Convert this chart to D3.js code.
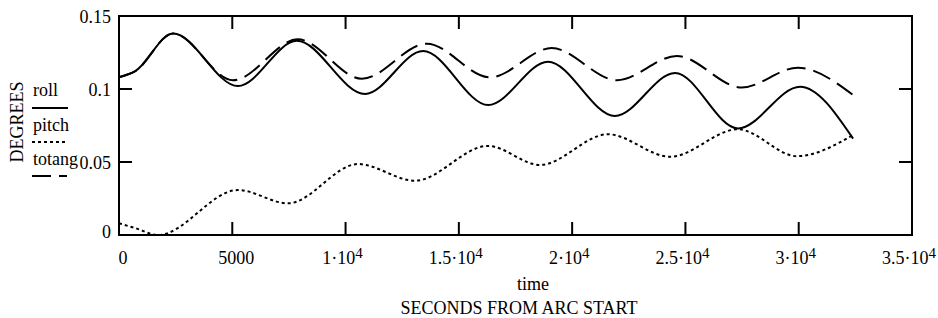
<!DOCTYPE html>
<html>
<head>
<meta charset="utf-8">
<script src="https://cdn.jsdelivr.net/npm/d3@7"></script>
<style>
  body { margin: 0; background: #fff; }
  text { font-family: "Liberation Serif", "Times New Roman", serif; fill: #000; }
</style>
</head>
<body>
<div id="chart"></div>
<script>
// values (time in seconds, angles in degrees)
const rollTime  = [0, 700, 2384, 5250, 7850, 10860, 13420, 16300, 18930, 21890, 24540, 27320, 30060, 32400];
const rollVal   = [0.108, 0.112, 0.138, 0.102, 0.133, 0.0966, 0.126, 0.089, 0.1187, 0.0815, 0.111, 0.073, 0.1016, 0.066];

const pitchTime = [0, 700, 1720, 5250, 7460, 10550, 13060, 16280, 18580, 21580, 24320, 27320, 29920, 32400];
const pitchVal  = [0.008, 0.0048, 0, 0.0308, 0.0217, 0.0486, 0.0372, 0.061, 0.048, 0.069, 0.0536, 0.0724, 0.054, 0.0685];

const totTime   = [0, 700, 2384, 5030, 7900, 10720, 13590, 16370, 19100, 21980, 24620, 27490, 29960, 32400];
const totVal    = [0.108, 0.112, 0.138, 0.106, 0.134, 0.107, 0.131, 0.108, 0.128, 0.106, 0.1226, 0.101, 0.1146, 0.0959];

const xTicks = [0, 5000, 10000, 15000, 20000, 25000, 30000, 35000];
const yTicks = [0, 0.05, 0.1, 0.15];

const width = 938, height = 318;
const m = { left: 119, right: 912, top: 16, bottom: 235 };

const svg = d3.select("#chart").append("svg")
  .attr("width", width)
  .attr("height", height);

const x = d3.scaleLinear().domain([0, 35000]).range([m.left, m.right]);
const y = d3.scaleLinear().domain([0, 0.15]).range([m.bottom, m.top]);

const line = d3.line()
  .x((d) => x(d[0]))
  .y((d) => y(d[1]))
  .curve(d3.curveMonotoneX);

const series = [
  { name: "roll", t: rollTime, v: rollVal, dash: null },
  { name: "pitch", t: pitchTime, v: pitchVal, dash: "3,3" },
  { name: "totang", t: totTime, v: totVal, dash: "19,8" },
];

series.forEach((s) => {
  svg.append("path")
    .datum(d3.zip(s.t, s.v))
    .attr("fill", "none")
    .attr("stroke", "#000")
    .attr("stroke-width", 2)
    .attr("stroke-dasharray", s.dash)
    .attr("d", line);
});

// frame
svg.append("rect")
  .attr("x", m.left).attr("y", m.top)
  .attr("width", m.right - m.left).attr("height", m.bottom - m.top)
  .attr("fill", "none").attr("stroke", "#000").attr("stroke-width", 2);

// inner ticks on all four sides
const tickLen = 13;
const ticks = svg.append("g").attr("stroke", "#000").attr("stroke-width", 2);
xTicks.forEach((v) => {
  ticks.append("line").attr("x1", x(v)).attr("x2", x(v)).attr("y1", m.bottom).attr("y2", m.bottom - tickLen);
  ticks.append("line").attr("x1", x(v)).attr("x2", x(v)).attr("y1", m.top).attr("y2", m.top + tickLen);
});
yTicks.forEach((v) => {
  ticks.append("line").attr("x1", m.left).attr("x2", m.left + tickLen).attr("y1", y(v)).attr("y2", y(v));
  ticks.append("line").attr("x1", m.right).attr("x2", m.right - tickLen).attr("y1", y(v)).attr("y2", y(v));
});

// y tick labels
svg.append("g").selectAll("text")
  .data(yTicks)
  .enter()
  .append("text")
  .attr("x", 111)
  .attr("y", (d) => Math.min(y(d) + 7, m.bottom + 3))
  .attr("text-anchor", "end")
  .style("font-size", "18px")
  .text((d) => d3.format("")(d));

// x tick labels, mathcad style 1.5·10^4
const xl = svg.append("g");
xTicks.forEach((v) => {
  const t = xl.append("text")
    .attr("x", x(v) + (v < 10000 ? 4 : -3))
    .attr("y", 264)
    .attr("text-anchor", "middle")
    .style("font-size", "18px");
  if (v < 10000) {
    t.text(v);
  } else {
    t.append("tspan").text((v / 10000) + "\u00B710");
    t.append("tspan").attr("dy", -6).style("font-size", "15px").text("4");
  }
});

svg.append("text")
  .attr("x", 533).attr("y", 290)
  .attr("text-anchor", "middle")
  .style("font-size", "18px")
  .text("time");

svg.append("text")
  .attr("x", 519).attr("y", 314)
  .attr("text-anchor", "middle")
  .style("font-size", "18px")
  .text("SECONDS FROM ARC START");

svg.append("text")
  .attr("transform", "translate(23,122) rotate(-90)")
  .attr("text-anchor", "middle")
  .style("font-size", "18px")
  .text("DEGREES");

// legend
const legend = [
  { name: "roll", ty: 96, ly: 108, x2: 68, dash: null },
  { name: "pitch", ty: 131, ly: 142, x2: 66, dash: "3,3" },
  { name: "totang", ty: 165, ly: 176, x2: 67, dash: "19,8" },
];
legend.forEach((l) => {
  svg.append("text").attr("x", 33).attr("y", l.ty).style("font-size", "18px").text(l.name);
  svg.append("line")
    .attr("x1", 32).attr("x2", l.x2).attr("y1", l.ly).attr("y2", l.ly)
    .attr("stroke", "#000").attr("stroke-width", 2)
    .attr("stroke-dasharray", l.dash);
});
</script>
</body>
</html>
